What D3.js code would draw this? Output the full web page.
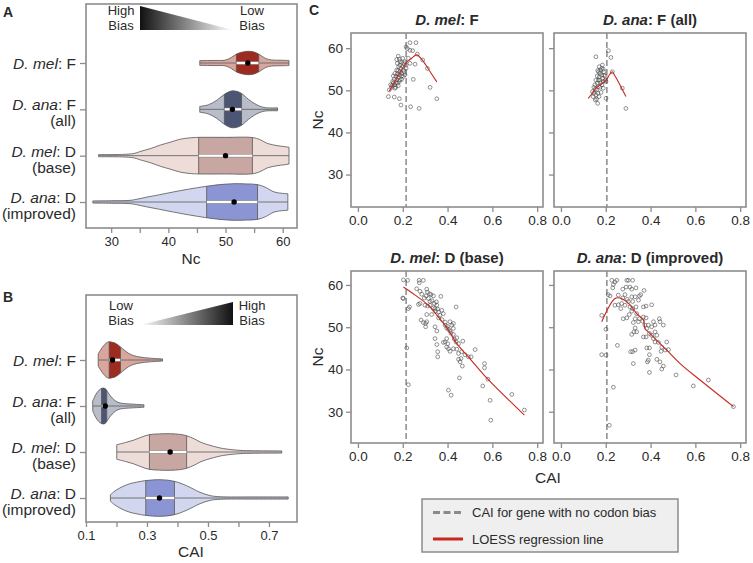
<!DOCTYPE html>
<html><head><meta charset="utf-8">
<script src="https://cdn.jsdelivr.net/npm/d3@7"></script>
<style>
body{margin:0;background:#fff}
svg text{font-family:"Liberation Sans",Arial,Helvetica,sans-serif;fill:#2a2a2a}
</style>
</head><body>
<svg id="chart" width="753" height="563"></svg>
<script>
// ---------------- DATA ----------------
const groupSpecies = ["D. mel", "D. ana", "D. mel", "D. ana"];
const groupSuffix  = [": F", ": F", ": D", ": D"];
const groupNote    = ["", "(all)", "(base)", "(improved)"];

// Nc violin profiles: [Nc value, relative density]
const ncProfileMelF = [[45.5,0.13],[48,0.14],[50,0.16],[51,0.3],[52,0.5],[53,0.6],[54,0.64],[55,0.6],[56,0.45],[57,0.25],[58,0.17],[60,0.15],[61.1,0.14]];
const ncProfileAnaF = [[45.5,0.16],[47,0.25],[48.5,0.5],[49.8,0.82],[51,1.0],[52,0.98],[52.8,0.87],[54,0.55],[55,0.33],[56,0.17],[57,0.09],[59.1,0.08]];
const ncProfileMelD = [[27.8,0.06],[32,0.07],[34,0.12],[35,0.22],[37,0.4],[38.6,0.58],[40.5,0.75],[42.1,0.9],[44,0.98],[45.3,1.0],[50,1.0],[54.7,0.99],[56,0.88],[57.3,0.67],[59,0.55],[60.2,0.5],[61.1,0.46]];
const ncProfileAnaD = [[26.8,0.06],[30,0.07],[33.3,0.09],[34.5,0.15],[36.3,0.27],[38.5,0.4],[40.9,0.55],[43.5,0.7],[46.7,0.86],[49,0.95],[51.5,1.0],[53.5,0.99],[55.6,0.95],[57,0.8],[58.5,0.55],[60,0.47],[60.9,0.45]];
const ncQ1   = [51.9, 49.8, 45.3, 46.7];
const ncQ3   = [55.8, 52.8, 54.7, 55.6];
const ncMean = [53.9, 51.2, 50.0, 51.5];

// CAI violin profiles: [CAI value, relative density]
const caiProfileMelF = [[0.14,0.33],[0.15,0.6],[0.157,0.76],[0.166,0.92],[0.176,1.0],[0.186,0.97],[0.195,0.93],[0.205,0.82],[0.213,0.71],[0.225,0.55],[0.238,0.38],[0.255,0.25],[0.277,0.16],[0.31,0.1],[0.351,0.06]];
const caiProfileAnaF = [[0.122,0.27],[0.133,0.65],[0.145,0.9],[0.155,0.98],[0.163,0.95],[0.171,0.77],[0.18,0.55],[0.193,0.33],[0.205,0.2],[0.222,0.14],[0.255,0.1],[0.29,0.07]];
const caiProfileMelD = [[0.201,0.4],[0.23,0.52],[0.255,0.64],[0.28,0.8],[0.308,0.95],[0.34,0.99],[0.376,1.0],[0.41,0.96],[0.43,0.89],[0.455,0.72],[0.474,0.55],[0.495,0.42],[0.518,0.31],[0.54,0.22],[0.562,0.16],[0.605,0.09],[0.65,0.07],[0.742,0.06]];
const caiProfileAnaD = [[0.18,0.18],[0.19,0.32],[0.201,0.45],[0.222,0.64],[0.244,0.78],[0.27,0.88],[0.296,0.95],[0.343,1.0],[0.39,0.91],[0.43,0.67],[0.452,0.49],[0.474,0.31],[0.507,0.13],[0.54,0.07],[0.65,0.06],[0.763,0.06]];
const caiQ1   = [0.176, 0.151, 0.308, 0.296];
const caiQ3   = [0.213, 0.168, 0.430, 0.390];
const caiMean = [0.187, 0.163, 0.376, 0.341];

const ncTicks = [30,35,40,45,50,55,60];
const ncTickLabels = [30,40,50,60];
const caiTicks = [0.1,0.2,0.3,0.4,0.5,0.6,0.7];
const caiTickLabels = [0.1,0.3,0.5,0.7];

// Scatter (C): [CAI, Nc]
const scatterMelF = [[0.232,61.3],[0.259,61.3],[0.215,60.3],[0.22,59.9],[0.232,59.5],[0.244,59.4],[0.225,57.6],[0.18,58.1],[0.173,57.3],[0.232,56.4],[0.255,56.2],[0.265,58.6],[0.289,57.2],[0.31,55.2],[0.322,50.7],[0.352,48.0],[0.247,52.6],[0.235,46.1],[0.273,45.7],[0.192,46.5],[0.136,48.5],[0.162,48.4],[0.185,48.0],
 [0.140,50.1],[0.150,50.7],[0.146,51.3],[0.158,51.7],[0.165,50.5],[0.155,52.1],[0.173,52.5],[0.162,52.6],[0.170,53.3],[0.180,53.1],[0.176,53.9],[0.185,53.7],[0.188,54.4],[0.180,54.7],[0.195,54.0],[0.191,55.2],[0.203,54.8],[0.200,55.6],[0.188,56.0],[0.195,56.6],[0.206,56.3],[0.182,55.6],[0.173,54.8],[0.165,54.0],[0.158,53.4],[0.170,51.8],[0.185,52.1],[0.203,53.3],[0.210,53.7],[0.195,52.6],[0.180,51.1],[0.168,50.7],[0.188,56.8],[0.200,57.6],[0.210,56.8],[0.215,56.0],[0.206,54.4],[0.215,55.2],[0.176,56.4],[0.185,57.4],[0.195,53.4],[0.152,51.1],[0.164,51.3],[0.177,51.7],[0.188,52.5]];
const scatterAnaF = [[0.156,57.95],[0.212,59.4],[0.223,57.8],[0.229,54.4],[0.274,50.5],[0.29,45.7],[0.201,48.1],[0.164,46.9],
 [0.141,49.7],[0.147,50.7],[0.152,51.3],[0.144,48.5],[0.156,48.9],[0.159,50.1],[0.162,51.7],[0.167,52.4],[0.156,52.4],[0.171,53.2],[0.162,53.4],[0.174,54.0],[0.168,54.4],[0.177,54.8],[0.182,55.2],[0.171,55.6],[0.182,53.6],[0.186,52.8],[0.189,52.1],[0.177,51.8],[0.167,50.9],[0.174,50.7],[0.183,51.3],[0.192,54.4],[0.197,53.4],[0.198,52.4],[0.189,55.0],[0.159,47.9],[0.153,47.7],[0.17,48.5],[0.179,49.5],[0.165,49.3],[0.189,50.5],[0.153,50.3],[0.164,54.7],[0.174,52.4],[0.201,52.1],[0.147,49.3],[0.185,56.0],[0.192,53.6]];
const scatterMelD = [[0.222,61.1],[0.273,61.1],[0.292,61.1],[0.274,60.5],[0.203,56.8],[0.225,54.4],[0.23,54.8],[0.218,45.1],[0.225,36.4],[0.262,59.1],[0.277,58.5],[0.307,59.0],[0.31,58.3],[0.304,57.4],[0.326,57.7],[0.337,57.4],[0.314,56.8],[0.322,56.1],[0.296,56.9],[0.37,57.3],[0.27,55.4],[0.277,55.6],[0.299,55.2],[0.311,55.0],[0.322,55.2],[0.337,54.6],[0.344,54.4],[0.352,55.2],[0.356,54.3],[0.341,55.6],[0.438,54.8],[0.307,53.0],[0.329,53.0],[0.374,54.0],[0.366,52.8],[0.381,53.2],[0.282,51.7],[0.292,51.1],[0.302,50.9],[0.307,51.3],[0.302,50.1],[0.344,50.1],[0.352,49.1],[0.389,50.5],[0.396,49.8],[0.411,51.3],[0.419,50.5],[0.426,50.9],[0.404,49.5],[0.411,49.1],[0.426,49.7],[0.426,48.3],[0.396,47.3],[0.441,47.5],[0.438,46.5],[0.449,46.1],[0.468,46.7],[0.389,46.5],[0.401,46.1],[0.344,47.3],[0.352,45.9],[0.381,46.4],[0.396,45.3],[0.404,44.9],[0.411,44.3],[0.426,44.9],[0.441,44.8],[0.449,43.8],[0.356,44.2],[0.356,43.0],[0.463,44.2],[0.478,43.5],[0.493,43.0],[0.505,43.0],[0.523,44.7],[0.449,42.4],[0.46,42.6],[0.456,41.8],[0.466,40.8],[0.565,41.4],[0.565,40.4],[0.453,38.0],[0.58,37.7],[0.557,36.1],[0.404,35.1],[0.416,33.9],[0.59,32.7],[0.687,34.1],[0.743,30.4],[0.593,28.0],[0.203,61.2],[0.2,56.9],[0.33,56.3],[0.345,53.8],[0.36,53.6],[0.375,51.8],[0.39,51.2],[0.4,50.2],[0.415,48.6],[0.43,47.2],[0.32,57.9],[0.285,57.8],[0.35,56.0],[0.36,52.2]];
const scatterAnaD = [[0.227,61.1],[0.249,61.1],[0.241,60.7],[0.234,60.1],[0.231,59.3],[0.294,61.1],[0.301,61.1],[0.32,61.1],[0.276,59.0],[0.291,59.5],[0.308,59.5],[0.316,59.0],[0.335,59.3],[0.371,58.7],[0.211,57.7],[0.219,57.4],[0.256,57.6],[0.276,56.9],[0.286,57.7],[0.296,56.6],[0.316,57.2],[0.331,57.2],[0.35,57.4],[0.356,57.7],[0.346,56.4],[0.32,56.1],[0.301,56.1],[0.241,55.2],[0.256,55.3],[0.271,55.6],[0.267,54.4],[0.286,55.2],[0.308,54.8],[0.32,54.4],[0.335,54.8],[0.368,54.8],[0.38,55.0],[0.405,55.3],[0.338,53.2],[0.305,53.0],[0.278,52.0],[0.294,52.2],[0.316,53.8],[0.331,52.0],[0.35,52.0],[0.368,52.4],[0.38,52.2],[0.365,51.4],[0.346,51.3],[0.323,51.1],[0.375,50.5],[0.39,50.5],[0.405,50.1],[0.42,50.5],[0.439,52.0],[0.442,51.3],[0.457,50.5],[0.413,51.3],[0.383,49.7],[0.331,49.8],[0.326,48.9],[0.316,48.3],[0.338,48.9],[0.368,47.7],[0.38,47.7],[0.395,48.5],[0.405,48.1],[0.42,48.9],[0.428,48.1],[0.413,47.3],[0.42,46.5],[0.435,46.4],[0.472,46.5],[0.252,45.7],[0.383,45.1],[0.395,45.1],[0.45,45.3],[0.447,44.3],[0.465,44.6],[0.48,44.7],[0.311,44.2],[0.32,44.2],[0.331,44.6],[0.395,43.5],[0.182,43.5],[0.201,43.4],[0.39,42.2],[0.386,41.8],[0.428,42.4],[0.442,41.8],[0.323,41.4],[0.457,40.8],[0.45,40.1],[0.395,39.3],[0.514,38.7],[0.591,36.1],[0.658,37.5],[0.234,35.8],[0.77,31.2],[0.216,26.8],[0.201,49.5],[0.182,52.8]];

const loessMelF = [[0.14,49.8],[0.17,52.5],[0.2,55.3],[0.22,56.8],[0.24,57.6],[0.262,58.4],[0.29,57.0],[0.315,55.0],[0.352,52.0]];
const loessAnaF = [[0.122,48.1],[0.14,49.3],[0.159,50.7],[0.175,51.3],[0.197,52.1],[0.207,52.8],[0.218,53.8],[0.229,54.4],[0.24,53.5],[0.248,52.8],[0.271,50.5],[0.29,48.5]];
const loessMelD = [[0.203,59.5],[0.255,57.6],[0.314,55.2],[0.359,52.4],[0.404,49.3],[0.441,46.1],[0.493,43.0],[0.58,37.7],[0.743,29.2]];
const loessAnaD = [[0.182,51.3],[0.241,56.8],[0.264,56.9],[0.294,56.0],[0.316,54.8],[0.338,53.2],[0.368,51.7],[0.375,49.7],[0.398,48.5],[0.428,46.9],[0.472,44.6],[0.532,41.4],[0.621,37.5],[0.77,31.2]];

const noBiasCAI = [0.215, 0.205, 0.215, 0.205];
const panelTitleSuffix = [": F", ": F (all)", ": D (base)", ": D (improved)"];
const scatterXTicks = [0, 0.2, 0.4, 0.6, 0.8];
const scatterYTicks = [30, 40, 50, 60];
const legendLabels = ["CAI for gene with no codon bias", "LOESS regression line"];

// ---------------- STYLE ----------------
const lightFill = ["#d8a69d", "#b9bdc9", "#eedcd8", "#d2d7ef"];
const darkFill  = ["#9d2b1f", "#4c5573", "#c8a6a1", "#8c95d4"];
const frameCol = "#8c8c8c";
const svg = d3.select("#chart");
const defs = svg.append("defs");

function frame(x0, y0, x1, y1) {
  svg.append("rect").attr("x", x0).attr("y", y0).attr("width", x1 - x0).attr("height", y1 - y0)
    .attr("fill", "none").attr("stroke", frameCol).attr("stroke-width", 1.6);
}
function styleAxis(g, fs) {
  g.select(".domain").remove();
  g.selectAll(".tick line").attr("stroke", frameCol).attr("stroke-width", 1.3);
  g.selectAll(".tick text").attr("font-size", fs).attr("fill", "#2a2a2a")
    .style("font-family", '"Liberation Sans",Arial,sans-serif');
}

// ---------------- PANELS A & B ----------------
const groupIdx = [0, 1, 2, 3];
const hw = d3.scaleLinear().domain([0, 1]).range([0, 18.3]);
let clipId = 0;

function violinPanel(cfg) {
  const x = d3.scaleLinear().domain(cfg.domain).range([86, 297]);
  const y = d3.scalePoint().domain(groupIdx).range([cfg.rowTop, cfg.rowBottom]);
  frame(86, cfg.top, 297, cfg.bottom);

  cfg.profiles.forEach((prof, i) => {
    const cy = y(i);
    const area = d3.area().x(d => x(d[0])).y0(d => cy - hw(d[1])).y1(d => cy + hw(d[1]))
      .curve(d3.curveCatmullRom.alpha(0.5));
    const dPath = area(prof);
    const id = "vc" + (clipId++);
    defs.append("clipPath").attr("id", id).append("path").attr("d", dPath);
    const g = svg.append("g");
    g.append("path").attr("d", dPath).attr("fill", lightFill[i]);
    const gc = g.append("g").attr("clip-path", `url(#${id})`);
    gc.append("rect").attr("x", x(cfg.q1[i])).attr("width", x(cfg.q3[i]) - x(cfg.q1[i]))
      .attr("y", cy - 25).attr("height", 50).attr("fill", darkFill[i]);
    [cfg.q1[i], cfg.q3[i]].forEach(q => gc.append("line").attr("x1", x(q)).attr("x2", x(q))
      .attr("y1", cy - 25).attr("y2", cy + 25).attr("stroke", "#555").attr("stroke-width", 0.8));
    g.append("path").attr("d", dPath).attr("fill", "none").attr("stroke", "#555").attr("stroke-width", 0.8);
    const ext = d3.extent(prof, d => d[0]);
    g.append("line").attr("x1", x(ext[0])).attr("x2", x(ext[1])).attr("y1", cy).attr("y2", cy)
      .attr("stroke", "#666").attr("stroke-width", 0.9);
    g.append("rect").attr("x", x(cfg.q1[i])).attr("width", x(cfg.q3[i]) - x(cfg.q1[i]))
      .attr("y", cy - 1.4).attr("height", 2.8).attr("fill", "#fff").attr("stroke", "#666").attr("stroke-width", 0.4);
    g.append("circle").attr("cx", x(cfg.mean[i])).attr("cy", cy).attr("r", 2.7).attr("fill", "#000");
  });

  // axes
  const ax = svg.append("g").attr("transform", `translate(0,${cfg.bottom})`)
    .call(d3.axisBottom(x).tickValues(cfg.ticks).tickSize(5).tickPadding(4)
      .tickFormat(d => cfg.tickLabels.some(t => Math.abs(t - d) < 1e-9) ? cfg.fmt(d) : ""));
  styleAxis(ax, 13);
  const ay = svg.append("g").attr("transform", "translate(86,0)")
    .call(d3.axisLeft(y).tickSize(6).tickFormat(""));
  styleAxis(ay, 13);

  groupIdx.forEach(i => {
    const cy = y(i);
    const two = groupNote[i] !== "";
    const t = svg.append("text").attr("x", 76).attr("y", two ? cy + 1 : cy + 5.5)
      .attr("text-anchor", "end").attr("font-size", 15.5);
    t.append("tspan").attr("font-style", "italic").text(groupSpecies[i]);
    t.append("tspan").text(groupSuffix[i]);
    if (two) svg.append("text").attr("x", 76).attr("y", cy + 17).attr("text-anchor", "end")
      .attr("font-size", 15.5).text(groupNote[i]);
  });

  svg.append("text").attr("x", 191).attr("y", cfg.titleY).attr("text-anchor", "middle")
    .attr("font-size", 15.5).text(cfg.title);

  // bias gradient
  const gid = "grad" + cfg.title;
  const lg = defs.append("linearGradient").attr("id", gid).attr("x1", 0).attr("x2", 1).attr("y1", 0).attr("y2", 0);
  lg.append("stop").attr("offset", 0).attr("stop-color", cfg.leftDark ? "#111" : "#fff");
  lg.append("stop").attr("offset", 1).attr("stop-color", cfg.leftDark ? "#fff" : "#111");
  const t0 = cfg.top;
  const pts = cfg.leftDark ? [[140, t0 + 2], [140, t0 + 26], [233, t0 + 26]] : [[140, t0 + 30], [233, t0 + 7], [233, t0 + 30]];
  svg.append("polygon").attr("points", pts.map(p => p.join(",")).join(" ")).attr("fill", `url(#${gid})`);
  const lbl = cfg.leftDark ? ["High", "Low"] : ["Low", "High"];
  [[121, lbl[0]], [252, lbl[1]]].forEach(([xx, w]) => {
    svg.append("text").attr("x", xx).attr("y", t0 + (cfg.leftDark ? 10.5 : 15)).attr("text-anchor", "middle").attr("font-size", 13).attr("fill", "#444").text(w);
    svg.append("text").attr("x", xx).attr("y", t0 + (cfg.leftDark ? 25.5 : 30)).attr("text-anchor", "middle").attr("font-size", 13).attr("fill", "#444").text("Bias");
  });
}

violinPanel({domain: [25.6, 62.5], top: 4, bottom: 228, rowTop: 63, rowBottom: 202,
  profiles: [ncProfileMelF, ncProfileAnaF, ncProfileMelD, ncProfileAnaD],
  q1: ncQ1, q3: ncQ3, mean: ncMean, ticks: ncTicks, tickLabels: ncTickLabels, fmt: d3.format("d"),
  title: "Nc", titleY: 264, leftDark: true});
violinPanel({domain: [0.1, 0.792], top: 295, bottom: 522, rowTop: 360, rowBottom: 498,
  profiles: [caiProfileMelF, caiProfileAnaF, caiProfileMelD, caiProfileAnaD],
  q1: caiQ1, q3: caiQ3, mean: caiMean, ticks: caiTicks, tickLabels: caiTickLabels, fmt: d3.format(".1f"),
  title: "CAI", titleY: 557, leftDark: false});

// ---------------- PANEL C ----------------
const scatters = [scatterMelF, scatterAnaF, scatterMelD, scatterAnaD];
const loesses = [loessMelF, loessAnaF, loessMelD, loessAnaD];
const cols = [[351, 543], [554, 746]];
const rows = [[33, 207, [22.3, 63.6]], [271, 443, [22.6, 63.3]]];

groupIdx.forEach(i => {
  const c = cols[i % 2], r = rows[Math.floor(i / 2)];
  const x = d3.scaleLinear().domain([-0.031, 0.826]).range(c);
  const y = d3.scaleLinear().domain(r[2]).range([r[1], r[0]]);
  const g = svg.append("g");
  g.append("line").attr("x1", x(noBiasCAI[i])).attr("x2", x(noBiasCAI[i])).attr("y1", r[0]).attr("y2", r[1])
    .attr("stroke", "#8a8a8a").attr("stroke-width", 1.5).attr("stroke-dasharray", "6,3");
  g.selectAll("circle.pt").data(scatters[i]).join("circle").attr("class", "pt")
    .attr("cx", d => x(d[0])).attr("cy", d => y(d[1])).attr("r", 1.9)
    .attr("fill", "none").attr("stroke", "#4a4a4a").attr("stroke-width", 0.6);
  g.append("path").attr("d", d3.line().x(d => x(d[0])).y(d => y(d[1])).curve(d3.curveCatmullRom)(loesses[i]))
    .attr("fill", "none").attr("stroke", "#c8281e").attr("stroke-width", 1.1);
  frame(c[0], r[0], c[1], r[1]);
  const ax = svg.append("g").attr("transform", `translate(0,${r[1]})`)
    .call(d3.axisBottom(x).tickValues(scatterXTicks).tickSize(5).tickPadding(3).tickFormat(d3.format(".1f")));
  styleAxis(ax, 13.5);
  const ay = svg.append("g").attr("transform", `translate(${c[0]},0)`)
    .call(d3.axisLeft(y).tickValues(scatterYTicks).tickSize(5).tickPadding(3)
      .tickFormat(i % 2 === 0 ? d3.format("d") : ""));
  styleAxis(ay, 13.5);
  const t = svg.append("text").attr("x", (c[0] + c[1]) / 2).attr("y", r[0] - 8)
    .attr("text-anchor", "middle").attr("font-size", 15).attr("font-weight", "bold");
  t.append("tspan").attr("font-style", "italic").text(groupSpecies[i]);
  t.append("tspan").text(panelTitleSuffix[i]);
  if (i % 2 === 0) {
    svg.append("text").attr("transform", `translate(323,${(r[0] + r[1]) / 2}) rotate(-90)`)
      .attr("text-anchor", "middle").attr("font-size", 15.5).text("Nc");
  }
});
svg.append("text").attr("x", 548).attr("y", 483).attr("text-anchor", "middle").attr("font-size", 15.5).text("CAI");

// legend
svg.append("rect").attr("x", 422).attr("y", 499).attr("width", 256).attr("height", 53)
  .attr("fill", "#efefef").attr("stroke", "#8c8c8c").attr("stroke-width", 1.5);
svg.append("line").attr("x1", 433).attr("x2", 463).attr("y1", 512.5).attr("y2", 512.5)
  .attr("stroke", "#8a8a8a").attr("stroke-width", 3).attr("stroke-dasharray", "7,3.5");
svg.append("line").attr("x1", 433).attr("x2", 463).attr("y1", 539).attr("y2", 539)
  .attr("stroke", "#c8281e").attr("stroke-width", 3);
legendLabels.forEach((l, k) => svg.append("text").attr("x", 472).attr("y", 517 + k * 26.5)
  .attr("font-size", 13).text(l));

// panel letters
[["A", 3, 17], ["B", 3, 302], ["C", 309, 15]].forEach(([s, xx, yy]) =>
  svg.append("text").attr("x", xx).attr("y", yy).attr("font-size", 14).attr("font-weight", "bold").attr("fill", "#111").text(s));
</script>
</body></html>
